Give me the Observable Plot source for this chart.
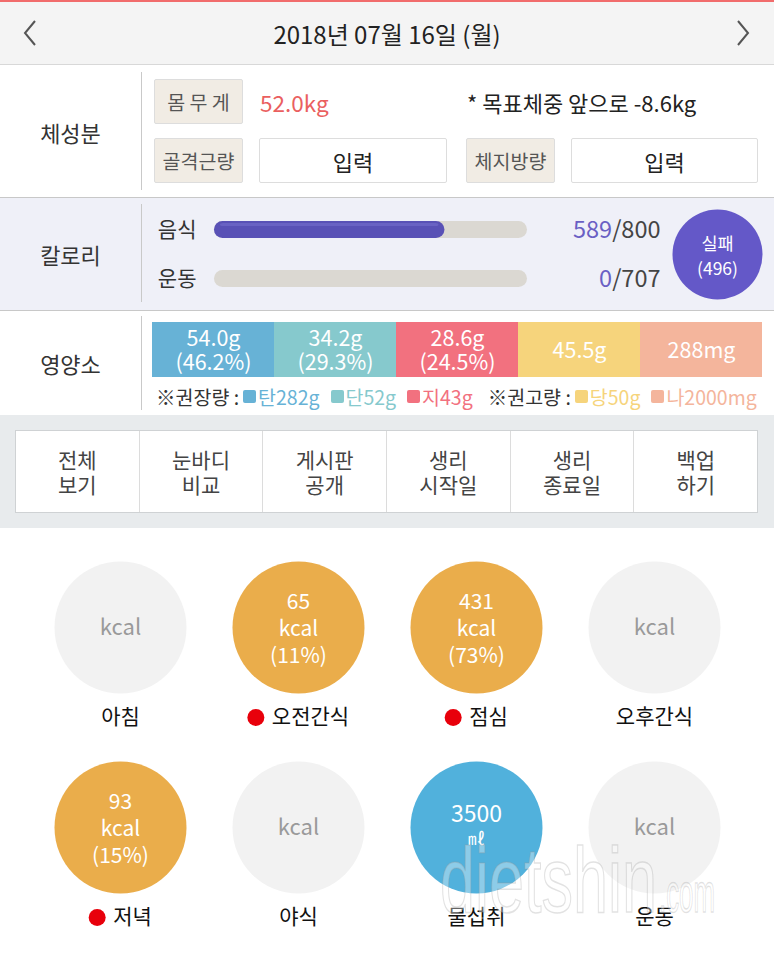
<!DOCTYPE html>
<html><head><meta charset="utf-8">
<script src="https://cdn.jsdelivr.net/npm/d3@7"></script>
<script src="https://cdn.jsdelivr.net/npm/@observablehq/plot@0.6"></script>
<style>
body{margin:0;width:774px;height:960px;position:relative;overflow:hidden;font-family:"Noto Sans CJK KR","Noto Sans",sans-serif;background:#fff;color:#333}
.a{position:absolute;box-sizing:border-box}
.c{display:flex;align-items:center;justify-content:center}
.lab{background:#f1ece4;border:1px solid #ddd;border-radius:2px;font-size:19.5px;color:#555}
.inp{background:#fff;border:1px solid #ddd;border-radius:2px;font-size:22px;color:#222}
.sec{font-size:22px;color:#333}
.div{background:#c9c9c9;width:1px}
.btns{display:flex;background:#fff;border:1px solid #cfd2d4}
.btns div{flex:1;border-left:1px solid #dcdcdc;display:flex;align-items:center;justify-content:center;text-align:center;white-space:pre;font-size:21px;line-height:25px;color:#444}
.btns div:first-child{border-left:none}
.legend{font-size:19.5px;white-space:nowrap;display:flex;align-items:center}
.sq{display:inline-block;width:13px;height:13px;border-radius:2px;margin:0 2px 0 4px}
</style></head><body>
<div id="root"></div>
<script>
// ---------- data ----------
const dateLabel = "2018년 07월 16일 (월)";
const weightKg = 52.0;
const toGoalKg = -8.6;
const bodyFields = ["몸 무 게", "골격근량", "체지방량"];
const inputLabel = "입력";

const calorieRows = ["음식", "운동"];
const calorieValues = [589, 0];
const calorieGoals = [800, 707];
const calorieStatus = "실패";
const calorieStatusValue = 496;

const nutrientNames = ["탄수화물", "단백질", "지방", "당류", "나트륨"];
const nutrientAmounts = [54.0, 34.2, 28.6, 45.5, 288];
const nutrientUnits = ["g", "g", "g", "g", "mg"];
const nutrientShares = [46.2, 29.3, 24.5, null, null];
const nutrientColors = ["#67b2d6", "#86c9cd", "#f2717f", "#f6d47c", "#f4b59c"];
const guideShort = ["탄", "단", "지", "당", "나"];
const guideAmounts = ["282g", "52g", "43g", "50g", "2000mg"];

const menuButtons = ["전체\n보기", "눈바디\n비교", "게시판\n공개", "생리\n시작일", "생리\n종료일", "백업\n하기"];

const mealNames = ["아침", "오전간식", "점심", "오후간식", "저녁", "야식", "물섭취", "운동"];
const mealKcal = [null, 65, 431, null, 93, null, null, null];
const mealShares = [null, 11, 73, null, 15, null, null, null];
const waterMl = 3500;

// ---------- helpers ----------
const FONT = '"Noto Sans CJK KR","Noto Sans",sans-serif';
const ctx = document.createElement("canvas").getContext("2d");
function textW(s, size) { ctx.font = `${size}px ${FONT}`; return ctx.measureText(s).width; }

const root = document.getElementById("root");
function add(html) { root.insertAdjacentHTML("beforeend", html); }
function place(svg, left, top) {
  svg.style.position = "absolute";
  svg.style.left = left + "px";
  svg.style.top = top + "px";
  svg.style.maxWidth = "none";
  root.appendChild(svg);
}

// ---------- header ----------
add(`<div class="a" style="left:0;top:0;width:774px;height:2px;background:#f16c6c"></div>`);
add(`<div class="a c" style="left:0;top:2px;width:774px;height:63px;background:#f4f4f4;border-bottom:1px solid #d8d8d8;font-size:24px;color:#222">${dateLabel}</div>`);
add(`<svg class="a" style="left:0;top:0" width="774" height="66"><polyline points="35,21 25,33 35,45" fill="none" stroke="#555" stroke-width="2"/><polyline points="738,21 748,33 738,45" fill="none" stroke="#555" stroke-width="2"/></svg>`);

// ---------- body composition ----------
add(`<div class="a c sec" style="left:0;top:66px;width:141px;height:131px">체성분</div>`);
add(`<div class="a div" style="left:141px;top:72px;height:118px"></div>`);
add(`<div class="a c lab" style="left:154px;top:79px;width:89px;height:45px">${bodyFields[0]}</div>`);
add(`<div class="a" style="left:260px;top:86px;height:32px;line-height:32px;font-size:22.5px;color:#ea5f5f">${weightKg.toFixed(1)}kg</div>`);
add(`<div class="a" style="left:467px;top:86px;height:32px;line-height:32px;font-size:22px;color:#222">* 목표체중 앞으로 ${toGoalKg.toFixed(1)}kg</div>`);
add(`<div class="a c lab" style="left:154px;top:138px;width:89px;height:45px">${bodyFields[1]}</div>`);
add(`<div class="a c inp" style="left:259px;top:138px;width:188px;height:45px">${inputLabel}</div>`);
add(`<div class="a c lab" style="left:466px;top:138px;width:89px;height:45px">${bodyFields[2]}</div>`);
add(`<div class="a c inp" style="left:571px;top:138px;width:187px;height:45px">${inputLabel}</div>`);
add(`<div class="a" style="left:0;top:197px;width:774px;height:1px;background:#c8c8c8"></div>`);

// ---------- calories section bg ----------
add(`<div class="a" style="left:0;top:198px;width:774px;height:112px;background:#eff0f8"></div>`);
add(`<div class="a c sec" style="left:0;top:198px;width:141px;height:112px">칼로리</div>`);
add(`<div class="a div" style="left:141px;top:204px;height:98px"></div>`);
add(`<div class="a" style="left:0;top:310px;width:774px;height:1px;background:#c8c8c8"></div>`);

// ---------- nutrients section ----------
add(`<div class="a c sec" style="left:0;top:311px;width:141px;height:103px">영양소</div>`);
add(`<div class="a div" style="left:141px;top:316px;height:94px"></div>`);
let leg = `<span style="color:#333">※권장량 : </span>`;
for (let i = 0; i < 5; i++) {
  if (i === 3) leg += `<span style="color:#333;margin-left:8px">※권고량 : </span>`;
  leg += `<span class="sq" style="background:${nutrientColors[i]}"></span><span style="color:${nutrientColors[i]};margin-right:7px">${guideShort[i]}${guideAmounts[i]}</span>`;
}
add(`<div class="a legend" style="left:156px;top:384px;height:24px">${leg}</div>`);

// ---------- buttons ----------
add(`<div class="a" style="left:0;top:415px;width:774px;height:113px;background:#e8ebed"></div>`);
add(`<div class="a btns" style="left:15px;top:430px;width:743px;height:83px">${menuButtons.map(b => `<div>${b}</div>`).join("")}</div>`);

// ---------- Plot 1: calorie bars ----------
const calData = calorieRows.map((r, i) => ({row: r, value: calorieValues[i], goal: calorieGoals[i], ratio: calorieValues[i] / calorieGoals[i]}));
const calMarks = [
  Plot.barX(calData, {x1: 0, x2: 1, y: "row", fill: "#dbd8d2", rx: 8.5, insetTop: 16, insetBottom: 16}),
  Plot.barX(calData.filter(d => d.ratio > 0), {x1: 0, x2: "ratio", y: "row", fill: "#5951b6", rx: 8.5, insetTop: 16, insetBottom: 16}),
  Plot.barX(calData.filter(d => d.ratio > 0), {x1: 0, x2: "ratio", y: "row", fill: "#7a73cf", rx: 3, insetTop: 18, insetBottom: 28, insetLeft: 6, insetRight: 6, opacity: 0.5})
];
calData.forEach(d => {
  const tail = "/" + d.goal;
  calMarks.push(Plot.text([d], {y: "row", frameAnchor: "right", dx: 133, textAnchor: "end", text: () => tail, fill: "#444", fontSize: 23.5}));
  calMarks.push(Plot.text([d], {y: "row", frameAnchor: "right", dx: 133 - textW(tail, 23.5), textAnchor: "end", text: d => String(d.value), fill: "#6a5fc4", fontSize: 23.5}));
});
calMarks.push(Plot.dot([calorieStatusValue], {frameAnchor: "right", dx: 190, r: 45, fill: "#6458c8"}));
calMarks.push(Plot.text([calorieStatusValue], {frameAnchor: "right", dx: 190, textAnchor: "middle", text: d => `${calorieStatus}\n(${d})`, fill: "white", fontSize: 17.5, lineHeight: 1.4}));
const calPlot = Plot.plot({
  width: 774, height: 98, marginLeft: 214, marginRight: 247, marginTop: 0, marginBottom: 0,
  style: {background: "none", fontFamily: FONT, fontSize: "21px", color: "#333"},
  x: {domain: [0, 1], axis: null},
  y: {domain: calorieRows, padding: 0, tickSize: 0, tickPadding: 18, label: null},
  marks: calMarks
});
place(calPlot, 0, 205);

// ---------- Plot 2: nutrient bar ----------
const nutData = nutrientNames.map((n, i) => ({name: n, amount: nutrientAmounts[i], unit: nutrientUnits[i], share: nutrientShares[i], color: nutrientColors[i]}));
const nutPlot = Plot.plot({
  width: 611, height: 55, margin: 0,
  style: {background: "none", fontFamily: FONT},
  x: {domain: nutrientNames, padding: 0, axis: null},
  marks: [
    Plot.cell(nutData, {x: "name", fill: d => d.color}),
    Plot.text(nutData, {x: "name", text: d => (d.unit === "g" ? d.amount.toFixed(1) : String(d.amount)) + d.unit + (d.share != null ? `\n(${d.share.toFixed(1)}%)` : ""), fill: "white", fontSize: 21.5, lineHeight: 1.12})
  ]
});
place(nutPlot, 151, 322);

// ---------- Plot 3: meal circles ----------
const mealData = mealNames.map((m, i) => {
  const water = m === "물섭취";
  const has = mealKcal[i] != null;
  return {
    name: m, col: i % 4, row: Math.floor(i / 4), water, has,
    fill: water ? "#51b1dc" : has ? "#eaad4b" : "#f2f2f2",
    label: has ? `${mealKcal[i]}\nkcal\n(${mealShares[i]}%)` : "kcal",
    alert: has
  };
});
const LBL = 21;
const mealMarks = [
  Plot.dot(mealData, {x: "col", y: "row", r: 66, fill: d => d.fill}),
  Plot.text(mealData.filter(d => d.has), {x: "col", y: "row", text: "label", fill: "white", fontSize: 21, lineHeight: 1.29}),
  Plot.text(mealData.filter(d => !d.has && !d.water), {x: "col", y: "row", text: "label", fill: "#9a9a9a", fontSize: 22}),
  Plot.text(mealData.filter(d => d.water), {x: "col", y: "row", dy: -13, text: () => String(waterMl), fill: "white", fontSize: 23}),
  Plot.text(mealData.filter(d => d.water), {x: "col", y: "row", dy: 12, text: () => "㎖", fill: "white", fontSize: 17}),
  Plot.text(mealData.filter(d => !d.alert), {x: "col", y: "row", dy: 90, text: "name", fill: "#111", fontSize: LBL})
];
mealData.filter(d => d.alert).forEach(d => {
  const w = textW(d.name, LBL);
  mealMarks.push(Plot.text([d], {x: "col", y: "row", dy: 90, dx: 12, text: "name", fill: "#111", fontSize: LBL}));
  mealMarks.push(Plot.dot([d], {x: "col", y: "row", dy: 90, dx: 12 - w / 2 - 16, r: 8.5, fill: "#e8000b"}));
});
const mealPlot = Plot.plot({
  width: 774, height: 433, marginLeft: 31, marginRight: 31, marginTop: 0, marginBottom: 33,
  style: {background: "none", fontFamily: FONT},
  x: {domain: [0, 1, 2, 3], type: "band", padding: 0, axis: null},
  y: {domain: [0, 1], type: "band", padding: 0, axis: null},
  marks: mealMarks
});
place(mealPlot, 0, 527);

// ---------- watermark ----------
add(`<svg class="a" style="left:0;top:0;pointer-events:none" width="774" height="960">
<g font-family="Liberation Sans, DejaVu Sans, sans-serif" fill="rgba(255,255,255,0.35)" stroke="rgba(150,150,150,0.28)" stroke-width="1.5">
<text x="440" y="912" font-size="92" textLength="217" lengthAdjust="spacingAndGlyphs">dietshin</text>
<text x="659" y="912" font-size="56" textLength="56" lengthAdjust="spacingAndGlyphs">.com</text>
</g></svg>`);
</script>
</body></html>
